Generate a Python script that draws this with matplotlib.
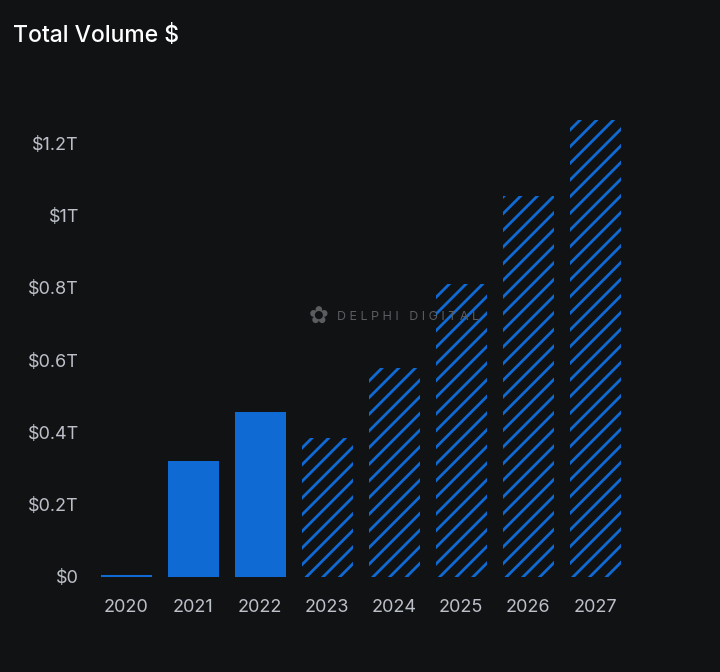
import matplotlib
matplotlib.use("Agg")
import matplotlib.pyplot as plt

# --- data (trillions USD) ---
years = ["2020", "2021", "2022", "2023", "2024", "2025", "2026", "2027"]
volumes = [0.005, 0.32, 0.456, 0.384, 0.578, 0.81, 1.053, 1.264]
projected = [False, False, False, True, True, True, True, True]
y_ticks = [0, 0.2, 0.4, 0.6, 0.8, 1.0, 1.2]
y_tick_labels = ["$0", "$0.2T", "$0.4T", "$0.6T", "$0.8T", "$1T", "$1.2T"]

BG = "#111214"
BLUE = "#0f6ad3"
TICK_GREY = "#bcc0c8"

plt.rcParams["font.family"] = ["Inter", "DejaVu Sans"]
plt.rcParams["hatch.linewidth"] = 2.0

fig = plt.figure(figsize=(7.2, 6.72), dpi=100, facecolor=BG)
ax = fig.add_axes([0.129, 0.1414, 0.744, 0.699])
ax.set_facecolor(BG)

x = range(len(years))
for i, (v, proj) in enumerate(zip(volumes, projected)):
    if proj:
        # projected years are hatched, no fill
        ax.bar(i, v, width=0.76, color="none", edgecolor=BLUE, hatch="//", linewidth=0)
    else:
        ax.bar(i, v, width=0.76, color=BLUE, linewidth=0)

ax.set_xlim(-0.5, len(years) - 0.5)
ax.set_ylim(0, 1.3)
ax.set_xticks(list(x))
ax.set_xticklabels(years)
ax.set_yticks(y_ticks)
ax.set_yticklabels(y_tick_labels)
ax.tick_params(axis="both", length=0, colors=TICK_GREY, labelsize=13)
ax.tick_params(axis="x", pad=16)
ax.tick_params(axis="y", pad=10)
for s in ax.spines.values():
    s.set_visible(False)

fig.text(0.018, 0.946, "Total Volume $", color="white", fontsize=16.5,
         fontweight="medium", va="center", ha="left")

# watermark
fig.text(0.468, 0.529, "D E L P H I   D I G I T A L", color="#5a5c60",
         fontsize=9, va="center", ha="left")
fig.text(0.443, 0.529, "\u273f", color="#5a5c60", fontsize=17,
         va="center", ha="center", family=["DejaVu Sans"])

fig.savefig("out.png", dpi=100, facecolor=BG)
